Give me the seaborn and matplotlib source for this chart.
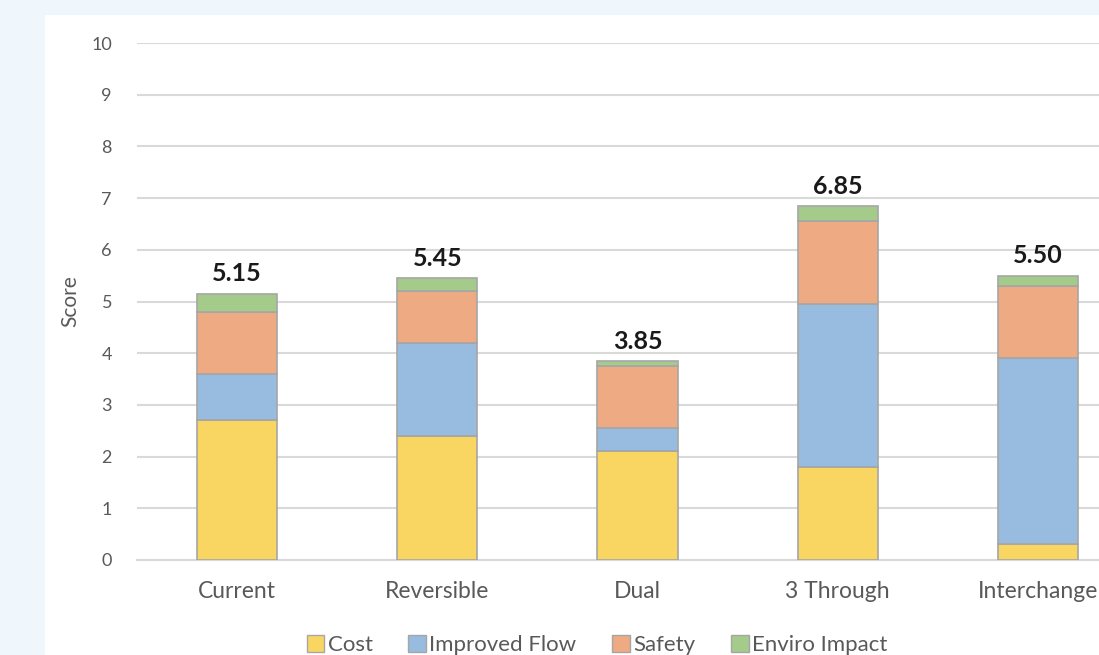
import numpy as np
import pandas as pd
import seaborn as sns
import matplotlib.pyplot as plt
from matplotlib.patches import Patch, Rectangle

# Data
categories = ['Current', 'Reversible', 'Dual', '3 Through', 'Interchange']
cost = [2.70, 2.40, 2.10, 1.80, 0.30]
improved_flow = [0.90, 1.80, 0.45, 3.15, 3.60]
safety = [1.20, 1.00, 1.20, 1.60, 1.40]
enviro_impact = [0.35, 0.25, 0.10, 0.30, 0.20]
totals = ['5.15', '5.45', '3.85', '6.85', '5.50']

series_names = ['Cost', 'Improved Flow', 'Safety', 'Enviro Impact']
series_vals = [cost, improved_flow, safety, enviro_impact]
colors = ['#f9d662', '#97bce0', '#eeaa82', '#a5cb8b']

sns.set_style('white')
plt.rcParams['font.family'] = ['Lato', 'DejaVu Sans']

fig = plt.figure(figsize=(10.99, 6.55), dpi=100)
fig.patch.set_facecolor('#f0f7fc')
# white chart panel behind everything
fig.patches.append(Rectangle((45 / 1099, 0), 1, (655 - 15) / 655,
                             transform=fig.transFigure, facecolor='white',
                             edgecolor='none', zorder=-5))

ax = fig.add_axes([137 / 1099, (655 - 560) / 655, 1 - 137 / 1099, (560 - 43) / 655])
ax.set_facecolor('none')
ax.set_zorder(2)

bottom = np.zeros(len(categories))
for name, vals, col in zip(series_names, series_vals, colors):
    df = pd.DataFrame({'cat': categories, 'val': vals})
    sns.barplot(data=df, x='cat', y='val', bottom=bottom, color=col, width=0.4,
                edgecolor='#a6a6a6', linewidth=1.2, saturation=1, ax=ax, zorder=3)
    bottom = bottom + np.array(vals)

for i, (tot, lab) in enumerate(zip(bottom, totals)):
    ax.annotate(lab, (i, tot), xytext=(0, 6), textcoords='offset points',
                ha='center', va='bottom', fontsize=18, fontweight='bold', color='#1a1a1a')

ax.set_ylim(0, 10)
ax.set_xlim(-0.5, 4.305)
ax.set_yticks(range(0, 11))
ax.yaxis.grid(True, color='#d9d9d9', linewidth=1.5, zorder=0)
ax.set_axisbelow(True)
for s in ['top', 'right', 'left']:
    ax.spines[s].set_visible(False)
ax.spines['bottom'].set_color('#d9d9d9')
ax.spines['bottom'].set_linewidth(1.5)
ax.tick_params(axis='y', length=0, pad=18, labelsize=13, labelcolor='#595959')
ax.tick_params(axis='x', length=0, pad=15, labelsize=16.5, labelcolor='#595959')
ax.set_xlabel('')
ax.set_ylabel('Score', fontsize=15, color='#595959', labelpad=8)

handles = [Patch(facecolor=c, edgecolor='#a6a6a6', label=n) for n, c in zip(series_names, colors)]
leg = fig.legend(handles=handles, loc='center', bbox_to_anchor=(597 / 1099, 10 / 655),
                 ncol=4, frameon=False, fontsize=16, handlelength=0.8, handleheight=0.8,
                 handletextpad=0.15, columnspacing=1.6, labelcolor='#595959')

fig.savefig('out.png', dpi=100, facecolor=fig.get_facecolor())
